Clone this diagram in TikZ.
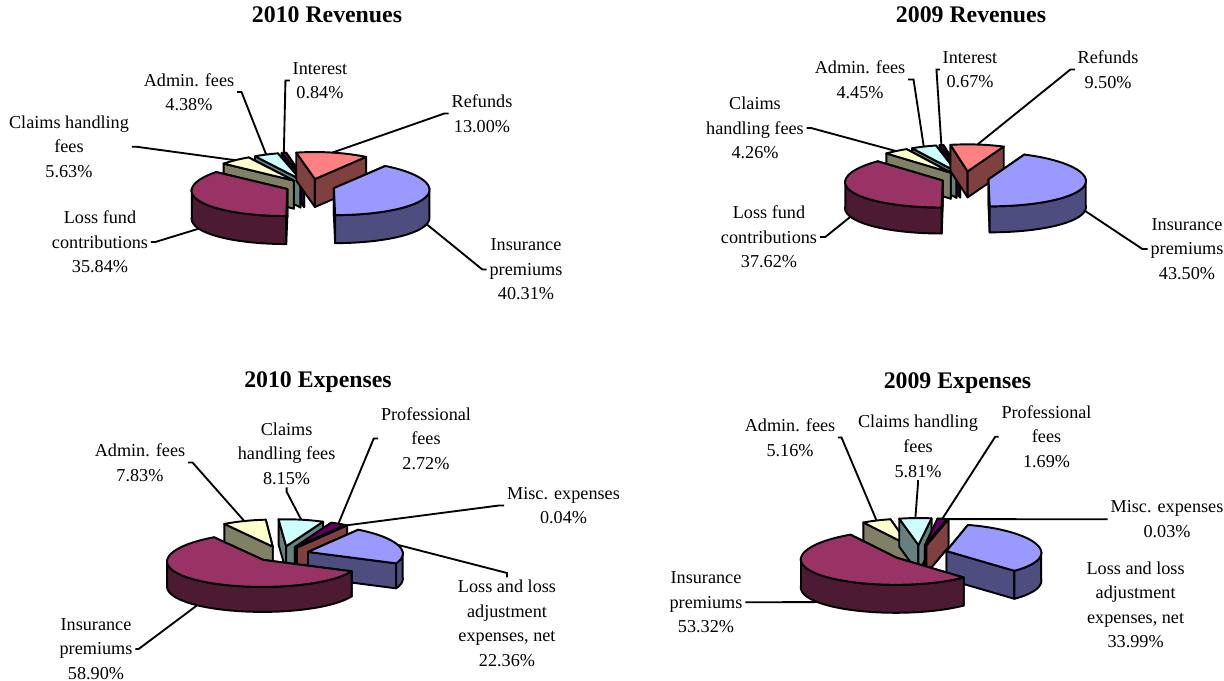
\documentclass[tikz,border=0pt]{standalone}
\usepackage{fontspec}
\setmainfont{Liberation Serif}
\definecolor{bluetop}{HTML}{9999FF}
\definecolor{blueside}{HTML}{4D4D80}
\definecolor{maroontop}{HTML}{993366}
\definecolor{maroonside}{HTML}{4D1A33}
\definecolor{creamtop}{HTML}{FFFFCC}
\definecolor{creamside}{HTML}{808066}
\definecolor{cyantop}{HTML}{CCFFFF}
\definecolor{cyanside}{HTML}{668080}
\definecolor{purpletop}{HTML}{660066}
\definecolor{purpleside}{HTML}{330033}
\definecolor{salmontop}{HTML}{FF8080}
\definecolor{salmonside}{HTML}{804040}
\tikzset {
  % outline of every face of a slice
  pie edge/.style = {
    draw = black,
    line width = 1.45pt,
    line join = round
  },
  % line from a label to its slice
  leader/.style = {
    draw = black,
    line width = 1.4pt,
    shorten <= 2pt
  },
  pie label/.style = {
    align = center,
    inner sep = 0,
    font = \fontsize{13.65}{18.4}\selectfont
  },
  chart title/.style = {
    inner sep = 0,
    font = \fontsize{17.85}{20}\selectfont\bfseries
  }
}
% chart geometry: centre x, centre y, radii, depth, explode
\newcommand\setpie[6]{%
  \def\cx{#1}\def\cy{#2}\def\rx{#3}\def\ry{#4}\def\hh{#5}\def\ex{#6}}
\def\pk{0.05}
\newcommand\apexpt[1]{({sx(\ou,\ov)},{sy(\ov,#1)})}
\newcommand\rimpt[2]{({sx(\ou+cos(#1),\ov+sin(#1))},{sy(\ov+sin(#1),#2)})}
\newcommand\radialface[2]{%
  \path[pie edge, fill=#2] \apexpt{0} -- \rimpt{#1}{0} -- \rimpt{#1}{1}
    -- \apexpt{1} -- cycle;}
% front part of the curved wall
\newcommand\outerwall[5]{%
  \pgfmathsetmacro\wlo{max(#1,#3)}%
  \pgfmathsetmacro\whi{min(#2,#4)}%
  \ifdim\wlo pt<\whi pt
    \path[pie edge, fill=#5]
      plot[domain=\wlo:\whi, samples=40, variable=\t]
        ({sx(\ou+cos(\t),\ov+sin(\t))},{sy(\ov+sin(\t),0)})
      -- plot[domain=\whi:\wlo, samples=40, variable=\t]
        ({sx(\ou+cos(\t),\ov+sin(\t))},{sy(\ov+sin(\t),1)})
      -- cycle;
  \fi}
% start angle, end angle, top colour, side colour, name of rim point
\newcommand\pieslice[5]{%
  \pgfmathsetmacro\sm{(#1+#2)/2}%
  \pgfmathsetmacro\ou{\ex*cos(\sm)}%
  \pgfmathsetmacro\ov{\ex*sin(\sm)}%
  \pgfmathsetmacro\ca{cos(#1)}%
  \ifdim\ca pt>0pt
    \radialface{#2}{#4}\radialface{#1}{#4}%
  \else
    \radialface{#1}{#4}\radialface{#2}{#4}%
  \fi
  \outerwall{#1}{#2}{-180}{0}{#4}%
  \outerwall{#1}{#2}{180}{360}{#4}%
  \path[pie edge, fill=#3] \apexpt{0}
    -- plot[domain=#1:#2, samples=40, variable=\t]
      ({sx(\ou+cos(\t),\ov+sin(\t))},{sy(\ov+sin(\t),0)})
    -- cycle;
  \pgfmathsetmacro\ms{sin(\sm)}%
  \ifdim\ms pt<0pt \def\lz{1}\else \def\lz{0}\fi
  \path \rimpt{\sm}{\lz} coordinate (#5);}

\begin{document}
\begin{tikzpicture}[x=0.75pt, y=-0.75pt,
  declare function={
    sx(\x,\y)=\cx+\rx*\x*(1-\pk*\y);
    sy(\y,\z)=\cy-\ry*\y+\hh*\z;
  }]
  \useasboundingbox (0,0) rectangle (1224,681);

  % 2010 revenues
  \node[chart title] (title10r) at (327,15) {2010 Revenues};
  \setpie{310}{186}{95}{27}{28}{0.263}
  \pieslice{101.916}{104.94}{purpletop}{purpleside}{int10r}
  \pieslice{104.94}{120.708}{cyantop}{cyanside}{adm10r}
  \pieslice{55.116}{101.916}{salmontop}{salmonside}{ref10r}
  \pieslice{120.708}{140.976}{creamtop}{creamside}{clm10r}
  \pieslice{140.976}{270}{maroontop}{maroonside}{los10r}
  \pieslice{-90}{55.116}{bluetop}{blueside}{ins10r}

  \node[pie label] (lclm10r) at (69,146.7) {Claims handling\\fees\\5.63\%};
  \node[pie label] (llos10r) at (100,242) {Loss fund\\contributions\\35.84\%};
  \node[pie label] (ladm10r) at (189,92) {Admin. fees\\4.38\%};
  \node[pie label] (lint10r) at (320,80.5) {Interest\\0.84\%};
  \node[pie label] (lref10r) at (482,113.5) {Refunds\\13.00\%};
  \node[pie label] (lins10r) at (526,269.5) {Insurance\\premiums\\40.31\%};

  \draw[leader] (lclm10r.east) -- ++(7,0) -- (clm10r);
  \draw[leader] (llos10r.east) -- ++(7,0) -- (los10r);
  \draw[leader] (ladm10r.east) -- ++(7,0) -- (adm10r);
  \draw[leader] (lint10r.west) -- ++(-7,0) -- (int10r);
  \draw[leader] (lref10r.west) -- ++(-7,0) -- (ref10r);
  \draw[leader] (lins10r.west) -- ++(-7,0) -- (ins10r);

  % 2009 revenues
  \node[chart title] (title09r) at (971,15) {2009 Revenues};
  \setpie{965}{178}{97}{27}{26}{0.247}
  \pieslice{100.8}{103.212}{purpletop}{purpleside}{int09r}
  \pieslice{103.212}{119.232}{cyantop}{cyanside}{adm09r}
  \pieslice{66.6}{100.8}{salmontop}{salmonside}{ref09r}
  \pieslice{119.232}{134.568}{creamtop}{creamside}{clm09r}
  \pieslice{134.568}{270}{maroontop}{maroonside}{los09r}
  \pieslice{-90}{66.6}{bluetop}{blueside}{ins09r}

  \node[pie label] (lclm09r) at (755,128) {Claims\\handling fees\\4.26\%};
  \node[pie label] (ladm09r) at (860,79.5) {Admin. fees\\4.45\%};
  \node[pie label] (lint09r) at (970,69.5) {Interest\\0.67\%};
  \node[pie label] (lref09r) at (1108,69.5) {Refunds\\9.50\%};
  \node[pie label] (lins09r) at (1187,249) {Insurance\\premiums\\43.50\%};
  \node[pie label] (llos09r) at (769,237) {Loss fund\\contributions\\37.62\%};

  \draw[leader] (lclm09r.east) -- ++(7,0) -- (clm09r);
  \draw[leader] (ladm09r.east) -- ++(8,0) -- (adm09r);
  \draw[leader] (lint09r.west) -- ++(-6,0) -- (int09r);
  \draw[leader] (lref09r.west) -- ++(-7,0) -- (ref09r);
  \draw[leader] (lins09r.west) -- ++(-8,0) -- (ins09r);
  \draw[leader] (llos09r.east) -- ++(8,0) -- (los09r);

  % 2010 expenses
  \node[chart title] (title10e) at (318,382) {2010 Expenses};
  \setpie{281.5}{554}{95}{27}{25}{0.29}
  \pieslice{94.772}{122.96}{creamtop}{creamside}{adm10e}
  \pieslice{65.432}{94.772}{cyantop}{cyanside}{clm10e}
  \pieslice{55.64}{65.432}{purpletop}{purpleside}{pro10e}
  \pieslice{55.496}{55.64}{salmontop}{salmonside}{mis10e}
  \pieslice{-25}{55.496}{bluetop}{blueside}{los10e}
  \pieslice{122.96}{335}{maroontop}{maroonside}{ins10e}

  \node[pie label] (ladm10e) at (140,462.5) {Admin. fees\\7.83\%};
  \node[pie label] (lclm10e) at (286.6,453.5) {Claims\\handling fees\\8.15\%};
  \node[pie label] (lpro10e) at (426,438.5) {Professional\\fees\\2.72\%};
  \node[pie label] (lmis10e) at (563.5,505.5) {Misc. expenses\\0.04\%};
  \node[pie label] (llos10e) at (507,623.5) {Loss and loss\\adjustment\\expenses, net\\22.36\%};
  \node[pie label] (lins10e) at (96,649) {Insurance\\premiums\\58.90\%};

  \draw[leader] (ladm10e.east) -- ++(7,0) -- (adm10e);
  \draw[leader] (lclm10e.south) -- ++(0,7) -- (clm10e);
  \draw[leader] (lpro10e.west) -- ++(-7,0) -- (pro10e);
  \draw[leader] (lmis10e.west) -- ++(-8,0) -- (mis10e);
  \draw[leader] (llos10e.north) -- ++(0,-7) -- (los10e);
  \draw[leader] (lins10e.east) -- ++(6,0) -- (ins10e);

  % 2009 expenses
  \node[chart title] (title09e) at (957.5,383) {2009 Expenses};
  \setpie{919.4}{553}{95}{27}{28}{0.295}
  \pieslice{102.472}{121.048}{creamtop}{creamside}{adm09e}
  \pieslice{81.556}{102.472}{cyantop}{cyanside}{clm09e}
  \pieslice{75.472}{81.556}{purpletop}{purpleside}{pro09e}
  \pieslice{75.364}{75.472}{salmontop}{salmonside}{mis09e}
  \pieslice{-47}{75.364}{bluetop}{blueside}{los09e}
  \pieslice{121.048}{313}{maroontop}{maroonside}{ins09e}

  \node[pie label] (ladm09e) at (790,437.5) {Admin. fees\\5.16\%};
  \node[pie label] (lclm09e) at (918,446.3) {Claims handling\\fees\\5.81\%};
  \node[pie label] (lpro09e) at (1046.5,436.7) {Professional\\fees\\1.69\%};
  \node[pie label] (lmis09e) at (1167,519.2) {Misc. expenses\\0.03\%};
  \node[pie label] (llos09e) at (1135.6,604.8) {Loss and loss\\adjustment\\expenses, net\\33.99\%};
  \node[pie label] (lins09e) at (706,602.3) {Insurance\\premiums\\53.32\%};

  \draw[leader] (ladm09e.east) -- ++(6,0) -- (adm09e);
  \draw[leader] (lclm09e.south) -- ++(0,6) -- (clm09e);
  \draw[leader] (lpro09e.west) -- ++(-6,0) -- (pro09e);
  \draw[leader] (lmis09e.west) -- ++(-6,0) -- (mis09e);
  \draw[leader] (lins09e.east) -- ++(6,0) -- (ins09e);
\end{tikzpicture}
\end{document}
